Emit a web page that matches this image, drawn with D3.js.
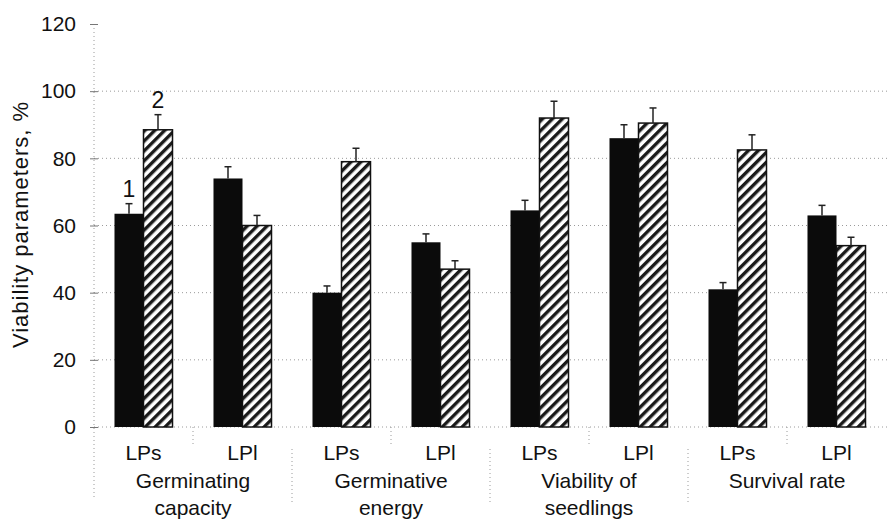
<!DOCTYPE html>
<html lang="en">
<head>
<meta charset="utf-8">
<style type="text/css">
    body { margin: 0; background: #fff; }
    text { font-family: "Liberation Sans", Arial, sans-serif; fill: #111; }
    .grid { stroke: #9a9a9a; stroke-width: 1px; stroke-dasharray: 1,3; }
</style>
</head>
<body>
<svg width="895" height="531"></svg>

<script src="https://d3js.org/d3.v7.min.js"></script>
<script type="text/javascript">
// categories
var groups = ["Germinating|capacity", "Germinative|energy", "Viability of|seedlings", "Survival rate"];
var subLabels = ["LPs", "LPl", "LPs", "LPl", "LPs", "LPl", "LPs", "LPl"];
// series values (1 = black, 2 = hatched) and their error bars
var series1 = [63.5, 74, 40, 55, 64.5, 86, 41, 63];
var series2 = [88.5, 60, 79, 47, 92, 90.5, 82.5, 54];
var err1 = [3, 3.5, 2, 2.5, 3, 4, 2, 3];
var err2 = [4.5, 3, 4, 2.5, 5, 4.5, 4.5, 2.5];
var yTicks = [0, 20, 40, 60, 80, 100, 120];
var seriesNames = ["1", "2"];

var svg = d3.select("svg"),
    left = 94, right = 888, base = 427, yTop = 24;

var y = d3.scaleLinear().domain([0, 120]).range([base, yTop]);
var x = d3.scaleBand().domain(d3.range(subLabels.length)).range([left, left + 8 * 99])
    .paddingInner(0.414).paddingOuter(0.207);
var xs = d3.scaleBand().domain([0, 1]).range([0, x.bandwidth()]);

// hatch pattern
var pat = svg.append("defs").append("pattern")
    .attr("id", "hatch").attr("patternUnits", "userSpaceOnUse")
    .attr("width", 7).attr("height", 7)
    .attr("patternTransform", "rotate(45)");
pat.append("rect").attr("width", 7).attr("height", 7).attr("fill", "#fff");
pat.append("rect").attr("width", 3.4).attr("height", 7).attr("fill", "#1a1a1a");

// gridlines
svg.selectAll(".hgrid").data(yTicks.filter(function(d){ return d > 0 && d < 120; }))
  .enter().append("line").attr("class", "grid")
    .attr("x1", left).attr("x2", right)
    .attr("y1", function(d){ return y(d); }).attr("y2", function(d){ return y(d); });

// axes lines
svg.append("line").attr("class", "grid").attr("x1", left).attr("x2", right)
    .attr("y1", base).attr("y2", base);
svg.append("line").attr("class", "grid").attr("x1", left).attr("x2", left)
    .attr("y1", yTop).attr("y2", 498);

var yAxis = svg.append("g").attr("transform", "translate(" + left + ",0)")
    .call(d3.axisLeft(y).tickValues(yTicks).tickSize(4).tickPadding(14));
yAxis.select(".domain").remove();
yAxis.selectAll(".tick line").attr("stroke", "#777").attr("x2", 4).attr("x1", -4);
yAxis.selectAll(".tick text").attr("font-size", "21px")
    .attr("font-family", "'Liberation Sans', Arial, sans-serif").attr("fill", "#111");

// separators under the x axis
svg.selectAll(".minor").data([1, 3, 5, 7]).enter().append("line").attr("class", "grid")
    .attr("x1", function(d){ return x(d) - x.step() * 0.207; })
    .attr("x2", function(d){ return x(d) - x.step() * 0.207; })
    .attr("y1", base).attr("y2", base + 18);
svg.selectAll(".major").data([2, 4, 6]).enter().append("line").attr("class", "grid")
    .attr("x1", function(d){ return x(d) - x.step() * 0.207; })
    .attr("x2", function(d){ return x(d) - x.step() * 0.207; })
    .attr("y1", base + 22).attr("y2", base + 78);

// bars
var slots = svg.selectAll(".slot").data(subLabels).enter().append("g")
    .attr("transform", function(d, i){ return "translate(" + x(i) + ",0)"; });

slots.append("rect")
    .attr("x", xs(0)).attr("width", xs.bandwidth())
    .attr("y", function(d, i){ return y(series1[i]); })
    .attr("height", function(d, i){ return base - y(series1[i]); })
    .attr("fill", "#0b0b0b");

slots.append("rect")
    .attr("x", xs(1)).attr("width", xs.bandwidth())
    .attr("y", function(d, i){ return y(series2[i]); })
    .attr("height", function(d, i){ return base - y(series2[i]); })
    .attr("fill", "url(#hatch)").attr("stroke", "#111").attr("stroke-width", 1.5);

// error bars
[[series1, err1], [series2, err2]].forEach(function(s, k) {
  var cx = xs(k) + xs.bandwidth() / 2;
  slots.append("line")
      .attr("x1", cx).attr("x2", cx)
      .attr("y1", function(d, i){ return y(s[0][i]); })
      .attr("y2", function(d, i){ return y(s[0][i] + s[1][i]); })
      .attr("stroke", "#222").attr("stroke-width", 1.5);
  slots.append("line")
      .attr("x1", cx - 3.5).attr("x2", cx + 3.5)
      .attr("y1", function(d, i){ return y(s[0][i] + s[1][i]); })
      .attr("y2", function(d, i){ return y(s[0][i] + s[1][i]); })
      .attr("stroke", "#222").attr("stroke-width", 1.5);
});

// series labels over the first pair
svg.selectAll(".slab").data(seriesNames).enter().append("text")
    .attr("x", function(d, k){ return x(0) + xs(k) + xs.bandwidth() / 2; })
    .attr("y", function(d, k){
        var v = k === 0 ? series1[0] + err1[0] : series2[0] + err2[0];
        return y(v) - 7; })
    .attr("text-anchor", "middle").attr("font-size", "23px")
    .text(function(d){ return d; });

// x labels
svg.selectAll(".xl").data(subLabels).enter().append("text")
    .attr("x", function(d, i){ return x(i) + x.bandwidth() / 2; })
    .attr("y", 460).attr("text-anchor", "middle").attr("font-size", "21px")
    .text(function(d){ return d; });

svg.selectAll(".gl").data(groups).enter().append("text")
    .attr("text-anchor", "middle").attr("font-size", "21px")
    .each(function(d, g) {
      var cx = (x(2 * g) + x(2 * g + 1) + x.bandwidth()) / 2;
      d3.select(this).selectAll("tspan").data(d.split("|")).enter().append("tspan")
        .attr("x", cx).attr("y", function(t, j){ return 488 + j * 27; })
        .text(function(t){ return t; });
    });

// y title
svg.append("text")
    .attr("transform", "translate(28,225) rotate(-90)")
    .attr("text-anchor", "middle").attr("font-size", "22px")
    .attr("textLength", 246).attr("lengthAdjust", "spacing")
    .text("Viability parameters, %");
</script>
</body>
</html>
